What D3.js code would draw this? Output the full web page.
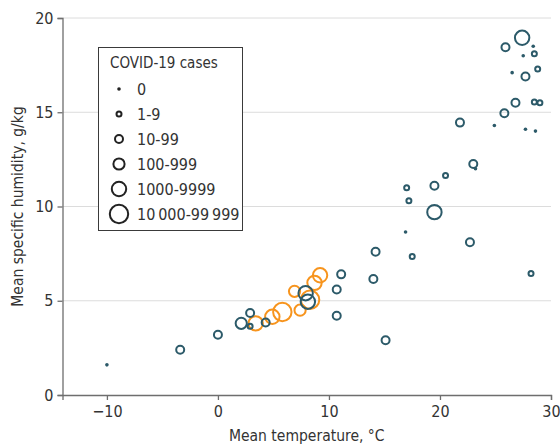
<!DOCTYPE html>
<html>
<head>
<meta charset="utf-8">
<script src="https://cdn.jsdelivr.net/npm/d3@7"></script>
<style>
  body { margin: 0; background: #fff; }
  svg text { font-family: "Liberation Sans Narrow", "DejaVu Sans Condensed", "Roboto", sans-serif; fill: #333; }
</style>
</head>
<body>
<div id="chart"></div>
<script>
// Data ________________________________________________________________
const caseLabels = ['0', '1-9', '10-99', '100-999', '1000-9999', '10\u2009000-99\u2009999'];

// dark teal group: temperature, humidity, case category (index into caseLabels)
const tealTemp = [-10.0, -3.4, 0.0, 2.1, 2.9, 2.9, 4.3, 7.9, 8.1, 10.7, 10.7, 11.1, 14.0, 14.2, 15.1,
  16.9, 17.0, 17.2, 17.5, 19.5, 19.5, 20.5, 23.0, 23.2, 22.7, 28.2,
  21.8, 24.9, 25.8, 26.8, 28.5, 29.0, 27.7, 28.6, 26.5, 27.7, 28.8, 25.9, 27.4, 28.4, 27.5, 28.5];
const tealHumidity = [1.6, 2.4, 3.2, 3.8, 4.35, 3.65, 3.85, 5.4, 4.95, 4.2, 5.6, 6.4, 6.15, 7.6, 2.9,
  8.65, 11.0, 10.3, 7.35, 11.1, 9.7, 11.65, 12.25, 12.0, 8.1, 6.45,
  14.45, 14.3, 14.95, 15.5, 15.55, 15.5, 14.1, 14.0, 17.1, 16.9, 17.3, 18.45, 18.95, 18.5, 18.0, 18.1];
const tealCases = [0, 2, 2, 3, 2, 1, 2, 4, 4, 2, 2, 2, 2, 2, 2,
  0, 1, 1, 1, 2, 4, 1, 2, 0, 2, 1,
  2, 0, 2, 2, 1, 1, 0, 0, 0, 2, 1, 2, 4, 0, 0, 1];

// orange group
const orangeTemp = [3.4, 4.9, 5.8, 7.4, 6.9, 8.3, 8.7, 9.2];
const orangeHumidity = [3.8, 4.15, 4.4, 4.5, 5.5, 5.05, 5.95, 6.35];
const orangeCases = [4, 4, 5, 3, 3, 5, 4, 4];

const xTicks = [-10, 0, 10, 20, 30];
const yTicks = [0, 5, 10, 15, 20];

// Layout ______________________________________________________________
const width = 560, height = 447;
const plotLeft = 62.5, plotRight = 551, plotTop = 18, plotBottom = 395;
const teal = '#2c5a69', orange = '#f7941d';
const ringRadius = [1.8, 2.5, 4.0, 5.6, 7.2, 9.2];

const x = d3.scaleLinear().domain([-14, 30]).range([plotLeft, plotRight]);
const y = d3.scaleLinear().domain([0, 20]).range([plotBottom, plotTop]);

const svg = d3.select('#chart').append('svg')
  .attr('width', width).attr('height', height);

// Grid
svg.append('g').selectAll('line')
  .data(yTicks.filter(d => d > 0))
  .join('line')
  .attr('x1', plotLeft).attr('x2', plotRight)
  .attr('y1', d => y(d)).attr('y2', d => y(d))
  .attr('stroke', '#dcdcdc').attr('stroke-width', 1);

// Axes
const xAxis = svg.append('g')
  .attr('transform', `translate(0,${plotBottom})`)
  .call(d3.axisBottom(x).tickValues(xTicks).tickSize(5).tickPadding(6).tickFormat(d => d < 0 ? '\u2212' + Math.abs(d) : d));
const yAxis = svg.append('g')
  .attr('transform', `translate(${plotLeft},0)`)
  .call(d3.axisLeft(y).tickValues(yTicks).tickSize(5).tickPadding(4));
[xAxis, yAxis].forEach(g => {
  g.select('.domain').attr('stroke', '#6e6e6e').attr('stroke-width', 1.3);
  g.selectAll('.tick line').attr('stroke', '#6e6e6e').attr('stroke-width', 1.3);
  g.selectAll('.tick text').style('font-size', '16px').attr('fill', '#333');
});

svg.append('text')
  .attr('x', (plotLeft + plotRight) / 2).attr('y', 441)
  .attr('text-anchor', 'middle').style('font-size', '15.5px')
  .text('Mean temperature, \u00b0C');
svg.append('text')
  .attr('transform', `translate(23,${(plotTop + plotBottom) / 2}) rotate(-90)`)
  .attr('text-anchor', 'middle').style('font-size', '15.5px')
  .text('Mean specific humidity, g/kg');

// Points
function drawPoints(temps, hums, cases, color) {
  const pts = temps.map((t, i) => ({t: t, h: hums[i], c: cases[i]}));
  svg.append('g').selectAll('circle')
    .data(pts)
    .join('circle')
    .attr('cx', d => x(d.t))
    .attr('cy', d => y(d.h))
    .attr('r', d => ringRadius[d.c])
    .attr('fill', d => d.c === 0 ? color : 'none')
    .attr('stroke', d => d.c === 0 ? 'none' : color)
    .attr('stroke-width', 2);
}
drawPoints(orangeTemp, orangeHumidity, orangeCases, orange);
drawPoints(tealTemp, tealHumidity, tealCases, teal);

// Legend
const legend = svg.append('g');
legend.append('rect')
  .attr('x', 98.5).attr('y', 47.5).attr('width', 144).attr('height', 183)
  .attr('fill', '#fff').attr('stroke', '#3a3a3a').attr('stroke-width', 1);
legend.append('text')
  .attr('x', 110).attr('y', 68).style('font-size', '15px')
  .text('COVID-19 cases');
const items = legend.selectAll('g.item')
  .data(caseLabels)
  .join('g')
  .attr('class', 'item')
  .attr('transform', (d, i) => `translate(119,${89 + i * 25})`);
items.append('circle')
  .attr('r', (d, i) => ringRadius[i])
  .attr('fill', (d, i) => i === 0 ? '#222' : 'none')
  .attr('stroke', (d, i) => i === 0 ? 'none' : '#222')
  .attr('stroke-width', 2);
items.append('text')
  .attr('x', 18).attr('dy', '0.35em').style('font-size', '16px')
  .text(d => d);
</script>
</body>
</html>
